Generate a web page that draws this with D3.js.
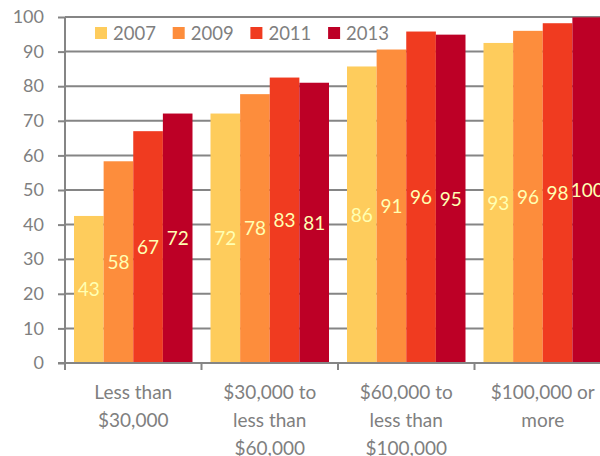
<!DOCTYPE html>
<html>
<head>
<meta charset="utf-8">
<script src="https://cdn.jsdelivr.net/npm/d3@7"></script>
<style>
  body { margin: 0; background: #fff; }
  svg { display: block; font-family: Lato, "Open Sans", sans-serif; }
</style>
</head>
<body>
<svg id="chart" width="600" height="456"></svg>
<script>
// data
const categories = [
  ["Less than", "$30,000"],
  ["$30,000 to", "less than", "$60,000"],
  ["$60,000 to", "less than", "$100,000"],
  ["$100,000 or", "more"]
]
const years = ["2007", "2009", "2011", "2013"]
const values2007 = [42.5, 72.1, 85.7, 92.5]
const values2009 = [58.3, 77.7, 90.6, 96.0]
const values2011 = [67.0, 82.5, 95.8, 98.2]
const values2013 = [72.1, 81.0, 94.9, 99.9]
const yTicks = [0, 10, 20, 30, 40, 50, 60, 70, 80, 90, 100]

const series = [values2007, values2009, values2011, values2013]
const colors = ["#fecc5c", "#fd8d3c", "#f03b20", "#bd0026"]

const svg = d3.select("#chart")
const plotLeft = 65, plotTop = 17, plotBottom = 363
const band = 136.5
const gray = "#858585"

const x0 = d3.scaleBand()
  .domain(d3.range(categories.length))
  .range([plotLeft, plotLeft + band * categories.length])
  .padding(0)

const x1 = d3.scaleBand()
  .domain(years)
  .range([9, x0.bandwidth() - 9])
  .padding(0)

const y = d3.scaleLinear()
  .domain([0, 100])
  .range([plotBottom, plotTop])

const color = d3.scaleOrdinal().domain(years).range(colors)

// gridlines
svg.append("g")
  .selectAll("line")
  .data(yTicks.filter(d => d > 0))
  .enter()
  .append("line")
  .attr("x1", plotLeft)
  .attr("x2", 600)
  .attr("y1", d => y(d))
  .attr("y2", d => y(d))
  .attr("stroke", gray)
  .attr("stroke-width", 2)

// bars
const groups = svg.append("g")
  .selectAll("g")
  .data(categories.map((c, i) => years.map((yr, j) => ({ cat: i, year: yr, value: series[j][i] }))))
  .enter()
  .append("g")
  .attr("transform", (d, i) => `translate(${x0(i)},0)`)

groups.selectAll("rect")
  .data(d => d)
  .enter()
  .append("rect")
  .attr("x", d => x1(d.year))
  .attr("y", d => y(d.value))
  .attr("width", x1.bandwidth())
  .attr("height", d => y(0) - y(d.value))
  .attr("fill", d => color(d.year))

groups.selectAll("text")
  .data(d => d)
  .enter()
  .append("text")
  .attr("x", d => x1(d.year) + x1.bandwidth() / 2)
  .attr("y", d => (y(d.value) + y(0)) / 2)
  .attr("dy", "0.36em")
  .attr("text-anchor", "middle")
  .attr("fill", "#ffffb2")
  .style("font-size", "19px")
  .text(d => Math.round(d.value))

// y axis
const yAxis = svg.append("g")
  .attr("transform", `translate(${plotLeft},0)`)
  .call(d3.axisLeft(y).tickValues(yTicks).tickSize(7).tickPadding(14))
yAxis.select(".domain").attr("stroke", gray).attr("stroke-width", 2)
  .attr("d", `M0,${plotTop}V${plotBottom}`)
yAxis.selectAll(".tick line").attr("stroke", gray).attr("stroke-width", 2)
yAxis.selectAll(".tick text")
  .attr("fill", "#7f7f7f")
  .style("font-size", "18px")
  .style("font-family", "Lato, sans-serif")

// x axis
svg.append("line")
  .attr("x1", plotLeft - 7).attr("x2", 600)
  .attr("y1", plotBottom).attr("y2", plotBottom)
  .attr("stroke", gray).attr("stroke-width", 2)

svg.append("g")
  .selectAll("line")
  .data(d3.range(categories.length + 1))
  .enter()
  .append("line")
  .attr("x1", i => plotLeft + band * i)
  .attr("x2", i => plotLeft + band * i)
  .attr("y1", plotBottom)
  .attr("y2", plotBottom + 7)
  .attr("stroke", gray)
  .attr("stroke-width", 2)

const xLabels = svg.append("g")
  .selectAll("text")
  .data(categories)
  .enter()
  .append("text")
  .attr("text-anchor", "middle")
  .attr("fill", "#7f7f7f")
  .style("font-size", "19px")

xLabels.selectAll("tspan")
  .data((d, i) => d.map(line => ({ line, i })))
  .enter()
  .append("tspan")
  .attr("x", d => x0(d.i) + band / 2)
  .attr("y", (d, k) => 399 + k * 28)
  .text(d => d.line)

// legend
const legend = svg.append("g")
  .selectAll("g")
  .data(years)
  .enter()
  .append("g")
  .attr("transform", (d, i) => `translate(${95 + i * 77.7},27)`)

legend.append("rect")
  .attr("width", 12)
  .attr("height", 12)
  .attr("fill", d => color(d))

legend.append("text")
  .attr("x", 18)
  .attr("y", 12.5)
  .attr("fill", "#7f7f7f")
  .style("font-size", "18.5px")
  .text(d => d)
</script>
</body>
</html>
